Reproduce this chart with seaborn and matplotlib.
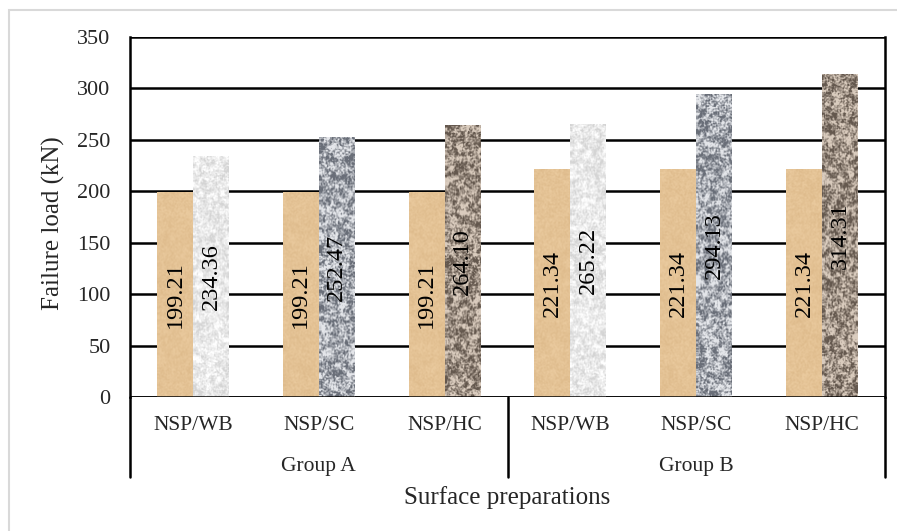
import numpy as np
import pandas as pd
import matplotlib
matplotlib.use("Agg")
import matplotlib.pyplot as plt
import matplotlib.transforms as mtransforms
from matplotlib.patches import Rectangle
import seaborn as sns

# ---- data ----
groups = ["Group A", "Group A", "Group A", "Group B", "Group B", "Group B"]
preparations = ["NSP/WB", "NSP/SC", "NSP/HC", "NSP/WB", "NSP/SC", "NSP/HC"]
nsp_load = [199.21, 199.21, 199.21, 221.34, 221.34, 221.34]
treated_load = [234.36, 252.47, 264.10, 265.22, 294.13, 314.31]
y_ticks = [0, 50, 100, 150, 200, 250, 300, 350]

keys = [f"{g}|{p}" for g, p in zip(groups, preparations)]
df = pd.DataFrame({
    "key": keys * 2,
    "series": ["NSP"] * 6 + ["Treated"] * 6,
    "load": nsp_load + treated_load,
})

sns.set_style("white")
SERIF = ["Liberation Serif", "DejaVu Serif"]
plt.rcParams["font.family"] = SERIF

W, H = 897, 531
fig = plt.figure(figsize=(W / 100, H / 100), dpi=100)
fig.patch.set_facecolor("white")
ax = fig.add_axes([130 / W, 1 - 397 / H, (885 - 130) / W, (397 - 37) / H])

sns.barplot(data=df, x="key", y="load", hue="series", order=keys,
            hue_order=["NSP", "Treated"], palette=["#E4C394", "#EEEEEE"],
            width=0.572, gap=0, errorbar=None, legend=False, ax=ax,
            linewidth=0, zorder=3)

ax.set_ylim(0, 350)
ax.set_xlim(-0.5, 5.5)
ax.set_yticks(y_ticks)
ax.set_yticklabels([str(t) for t in y_ticks], fontsize=16, family=SERIF)
ax.tick_params(axis="y", length=0, pad=14)
ax.set_xticks([])
ax.set_xlabel("")
ax.set_ylabel("")
for y in y_ticks:
    ax.axhline(y, color="black", lw=1.8, zorder=1)
for side in ["left", "right"]:
    ax.spines[side].set_visible(True)
    ax.spines[side].set_color("black")
    ax.spines[side].set_linewidth(1.8)
ax.spines["top"].set_visible(False)
ax.spines["bottom"].set_visible(False)


# ---- stone-like fill textures ----
rng = np.random.default_rng(7)


def smooth(a, k):
    ker = np.ones(k) / k
    p = k
    a = np.pad(a, p, mode="reflect")
    a = np.apply_along_axis(lambda r: np.convolve(r, ker, mode="same"), 0, a)
    a = np.apply_along_axis(lambda r: np.convolve(r, ker, mode="same"), 1, a)
    return a[p:-p, p:-p]


def texture(h, w, dark, light, grain, contrast):
    n = smooth(rng.random((h, w)), grain) + 0.4 * smooth(rng.random((h, w)), 2)
    n = (n - n.mean()) / (n.std() + 1e-9)
    t = np.clip(0.5 + contrast * n, 0, 1)[..., None]
    dark = np.array(dark) / 255
    light = np.array(light) / 255
    return dark + (light - dark) * t


tan = ((222, 187, 140), (234, 202, 158), 10, 0.2)
stones = [
    ((212, 212, 212), (255, 255, 255), 5, 0.26),   # WB
    ((105, 110, 120), (228, 230, 234), 6, 0.36),   # SC
    ((100, 88, 78), (218, 204, 190), 5, 0.36),     # HC
]

containers = ax.containers
for ci, cont in enumerate(containers):
    for bi, bar in enumerate(cont):
        x0, y0 = bar.get_x(), bar.get_y()
        bw, bh = bar.get_width(), bar.get_height()
        spec = tan if ci == 0 else stones[bi % 3]
        img = texture(int(bh * 1.03) + 2, 36, *spec)
        im = ax.imshow(img, extent=(x0, x0 + bw, y0, y0 + bh),
                       aspect="auto", origin="lower", zorder=4,
                       interpolation="bilinear")
        im.set_clip_path(bar)

for cont in containers:
    labels = ax.bar_label(cont, fmt="%.2f", label_type="center",
                          rotation=90, fontsize=17.5, color="black")
    for t in labels:
        t.set_family(SERIF)
        t.set_zorder(6)
        t.set_rotation_mode("anchor")
        t.set_ha("center")
        t.set_va("center")

# ---- two-level category axis ----
ax.axhline(0, color="black", lw=1.8, zorder=5)
trans = mtransforms.blended_transform_factory(ax.transData, ax.transAxes)
for i, p in enumerate(preparations):
    ax.text(i, -28 / 360, p, transform=trans, ha="center", va="center",
            fontsize=15.5, family=SERIF)
for gi, g in enumerate(["Group A", "Group B"]):
    ax.text(gi * 3 + 1, -69 / 360, g, transform=trans, ha="center",
            va="center", fontsize=15.5, family=SERIF)
for xs in [-0.5, 2.5, 5.5]:
    ax.plot([xs, xs], [0, -80 / 360], transform=trans, color="black",
            lw=1.8, clip_on=False)

fig.text(507 / W, 1 - 498 / H, "Surface preparations", ha="center",
         va="center", fontsize=18, family=SERIF)
fig.text(53 / W, 1 - 223 / H, "Failure load (kN)", ha="center",
         va="center", rotation=90, fontsize=18, family=SERIF)

# light frame around the chart
fig.patches.append(Rectangle((9 / W, -0.05), 1.2, 1 - 10 / H + 0.05,
                             transform=fig.transFigure, fill=False,
                             edgecolor="#D9D9D9", lw=1.5))

fig.savefig("out.png", dpi=100)
